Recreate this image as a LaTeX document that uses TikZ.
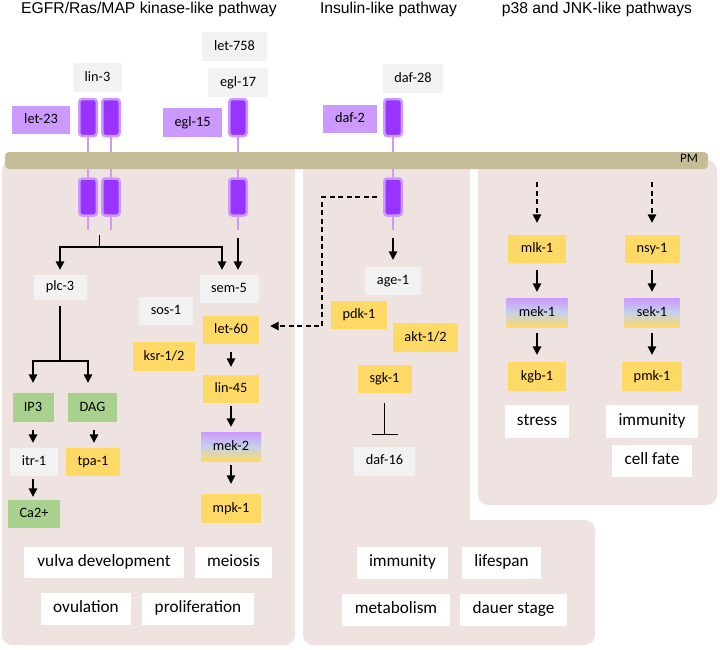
\documentclass[tikz,border=0pt]{standalone}
\usepackage{fontspec}
\setmainfont{Carlito}
\newfontfamily\titlefont{Liberation Sans}
\usetikzlibrary{arrows.meta}
\definecolor{panelc}{RGB}{238,227,225}
\definecolor{pmc}{RGB}{196,189,151}
\definecolor{grayb}{RGB}{242,242,242}
\definecolor{yellowb}{RGB}{255,217,102}
\definecolor{purpleb}{RGB}{204,153,255}
\definecolor{greenb}{RGB}{169,209,142}
\definecolor{recfill}{RGB}{153,51,255}
\definecolor{recline}{RGB}{204,153,255}
\definecolor{midblue}{RGB}{196,210,234}
\tikzset{
  title/.style={font=\titlefont\fontsize{15.7}{18}\selectfont, inner sep=0pt, text height=0.72em, text depth=0.02em},
  lbl/.style={font=\fontsize{14.3}{16}\selectfont, inner sep=0pt, minimum height=29pt, text height=0.72em, text depth=0.02em},
  gbox/.style={lbl, fill=grayb},
  ybox/.style={lbl, fill=yellowb},
  pbox/.style={lbl, fill=purpleb},
  grbox/.style={lbl, fill=greenb},
  mixbox/.style={lbl, top color=purpleb, bottom color=yellowb, middle color=midblue},
  obox/.style={font=\fontsize{17.2}{19}\selectfont, inner sep=0pt, fill=white, minimum height=32pt, text height=0.72em, text depth=0.02em},
  receptor/.style={draw=recline, fill=recfill, line width=2.5pt, rounded corners=3pt, minimum width=17.5pt, minimum height=37pt, inner sep=0pt},
  stem/.style={draw=recline, line width=2pt},
  plain/.style={draw=black, line width=1.4pt},
  arr/.style={plain, -{Triangle[width=8.5pt,length=8.5pt]}},
  dasharr/.style={arr, dash pattern=on 5pt off 3.5pt},
  inh/.style={plain, -{Bar[width=26pt,line width=1.4pt]}},
}
\begin{document}
\begin{tikzpicture}[x=1pt,y=-1pt]
\useasboundingbox (0,0) rectangle (720,649);
% panels
\fill[panelc, rounded corners=10pt] (2,160) rectangle (295,645);
\fill[panelc, rounded corners=10pt] (303,160) rectangle (470,645);
\fill[panelc, rounded corners=10pt] (303,520) rectangle (595,645);
\fill[panelc, rounded corners=10pt] (478,160) rectangle (717,505);

% titles
\node[title] (t1) at (149,10) {EGFR/Ras/MAP kinase-like pathway};
\node[title] (t2) at (388.5,10) {Insulin-like pathway};
\node[title] (t3) at (597,10) {p38 and JNK-like pathways};

% receptor positions
\coordinate (cA1) at (88,117.5);
\coordinate (cA2) at (111,117.5);
\coordinate (cB) at (238,117.5);
\coordinate (cC) at (393,117.5);
\coordinate (cA1l) at (88,197);
\coordinate (cA2l) at (111,197);
\coordinate (cBl) at (238,197);
\coordinate (cCl) at (393,197);
% stems
\foreach \a in {A1,A2,B,C}{
  \draw[stem] (c\a) -- (c\a l);
  \draw[stem] (c\a l) -- ++(0,33);
}
% membrane
\fill[pmc, rounded corners=4pt] (5,152) rectangle (708,169);
\node[font=\fontsize{13}{15}\selectfont, inner sep=0pt] (pm) at (689,158) {PM};

% receptors
\node[receptor] (rA1) at (cA1) {};
\node[receptor] (rA2) at (cA2) {};
\node[receptor] (rB) at (cB) {};
\node[receptor] (rC) at (cC) {};
\node[receptor] (rA1l) at (cA1l) {};
\node[receptor] (rA2l) at (cA2l) {};
\node[receptor] (rBl) at (cBl) {};
\node[receptor] (rCl) at (cCl) {};

% top labels
\node[gbox, minimum width=49pt] (lin3) at (97.5,77.5) {lin-3};
\node[pbox, minimum width=58pt, minimum height=28pt] (let23) at (41,120) {let-23};
\node[gbox, minimum width=65pt] (let758) at (234.5,46.5) {let-758};
\node[gbox, minimum width=60pt] (egl17) at (238,82.5) {egl-17};
\node[pbox, minimum width=59pt] (egl15) at (192.5,122.5) {egl-15};
\node[pbox, minimum width=54pt, minimum height=28pt] (daf2) at (350,119) {daf-2};
\node[gbox, minimum width=60pt] (daf28) at (413,78.5) {daf-28};

% EGFR panel
\node[gbox, minimum width=53pt, minimum height=25pt] (plc3) at (60,287) {plc-3};
\node[gbox, minimum width=59pt, minimum height=28pt] (sem5) at (229,289) {sem-5};
\node[gbox, minimum width=54pt, minimum height=28pt] (sos1) at (166,311) {sos-1};
\node[ybox, minimum width=56pt, minimum height=28pt] (let60) at (231,330) {let-60};
\node[ybox, minimum width=62pt] (ksr) at (164,356.5) {ksr-1/2};
\node[ybox, minimum width=56pt, minimum height=28pt] (lin45) at (231,389) {lin-45};
\node[mixbox, minimum width=60pt] (mek2) at (231,446.5) {mek-2};
\node[ybox, minimum width=60pt] (mpk1) at (231,508.5) {mpk-1};
\node[grbox, minimum width=41pt] (ip3) at (33,407.5) {IP3};
\node[grbox, minimum width=49pt] (dag) at (92.5,407.5) {DAG};
\node[gbox, minimum width=48pt, minimum height=28pt] (itr1) at (34,462) {itr-1};
\node[ybox, minimum width=54pt, minimum height=28pt] (tpa1) at (93,462) {tpa-1};
\node[grbox, minimum width=52pt, minimum height=28pt] (ca) at (34,514) {Ca2+};
\node[obox, minimum width=160pt, minimum height=31pt] (vulva) at (104,562.5) {vulva development};
\node[obox, minimum width=77pt, minimum height=31pt] (meiosis) at (233.5,562.5) {meiosis};
\node[obox, minimum width=90pt] (ovul) at (86,609) {ovulation};
\node[obox, minimum width=112pt] (prolif) at (198,609) {proliferation};

\coordinate (bt) at (99.5,235);
\coordinate (bj) at (99.5,247);
\draw[plain] (bt) -- (bj);
\draw[arr, shorten >=4.5pt] (bj) -| (plc3.north);
\draw[arr, shorten >=5pt] (bj) -| ([xshift=-7pt]sem5.north);
\draw[arr, shorten <=21pt, shorten >=5pt] (rBl.south) -- (rBl.south |- sem5.north);
\coordinate (pj) at (60,361);
\draw[plain, shorten <=6pt] (plc3.south) -- (pj);
\draw[arr, shorten >=10pt] (pj) -| (ip3.north);
\draw[arr, shorten >=10pt] (pj) -| ([xshift=-4.5pt]dag.north);
\draw[arr, shorten <=8pt, shorten >=5pt] (ip3.south) -- (ip3.south |- itr1.north);
\draw[arr, shorten <=8pt, shorten >=5pt] ([xshift=1.5pt]dag.south) -- ([xshift=1.5pt]dag.south |- tpa1.north);
\draw[arr, shorten <=3pt, shorten >=3pt] (itr1.south -| ip3) -- (ip3 |- ca.north);
\draw[arr, shorten <=8pt, shorten >=8pt] (let60) -- (lin45);
\draw[arr, shorten <=3pt, shorten >=5pt] (lin45) -- (mek2);
\draw[arr, shorten <=4pt, shorten >=10pt] (mek2) -- (mpk1);

% Insulin panel
\node[gbox, minimum width=56pt, minimum height=28pt] (age1) at (393,281) {age-1};
\node[ybox, minimum width=56pt, minimum height=28pt] (pdk1) at (359,315) {pdk-1};
\node[ybox, minimum width=65pt] (akt) at (425.5,337.5) {akt-1/2};
\node[ybox, minimum width=54pt, minimum height=28pt] (sgk1) at (384.5,379) {sgk-1};
\node[gbox, minimum width=61pt] (daf16) at (384.5,461) {daf-16};
\node[obox, minimum width=91pt] (imm1) at (402.5,563) {immunity};
\node[obox, minimum width=79pt] (life) at (501.5,563) {lifespan};
\node[obox, minimum width=108pt] (metab) at (396,609.5) {metabolism};
\node[obox, minimum width=107pt] (dauer) at (513.5,609.5) {dauer stage};

\draw[arr, shorten <=21pt, shorten >=7pt] (rCl.south) -- (age1.north);
\draw[inh, shorten <=10pt, shorten >=11pt] (sgk1) -- (daf16);
\coordinate (dk) at (322,326);
\draw[dasharr, shorten <=6pt, shorten >=11pt] (rCl.west) -| (dk) -- (let60.east |- dk);

% p38 panel
\node[ybox, minimum width=58pt, minimum height=28pt] (mlk1) at (537,249) {mlk-1};
\node[ybox, minimum width=55pt, minimum height=28pt] (nsy1) at (652,249) {nsy-1};
\node[mixbox, minimum width=61pt] (mek1) at (537,312.5) {mek-1};
\node[mixbox, minimum width=55pt] (sek1) at (652,312.5) {sek-1};
\node[ybox, minimum width=58pt] (kgb1) at (537,376.5) {kgb-1};
\node[ybox, minimum width=60pt] (pmk1) at (652,376.5) {pmk-1};
\node[obox, minimum width=64pt, minimum height=33pt] (stress) at (537,421.5) {stress};
\node[obox, minimum width=92pt, minimum height=33pt] (imm2) at (652,421.5) {immunity};
\node[obox, minimum width=80pt] (cfate) at (652,461) {cell fate};

\coordinate (d1) at (537,182);
\coordinate (d2) at (652,182);
\draw[dasharr, shorten >=12pt] (d1) -- (mlk1.north);
\draw[dasharr, shorten >=12pt] (d2) -- (nsy1.north);
\draw[arr, shorten <=7pt, shorten >=6pt] (mlk1) -- (mek1);
\draw[arr, shorten <=7pt, shorten >=6pt] (nsy1) -- (sek1);
\draw[arr, shorten <=6pt, shorten >=7pt] (mek1) -- (kgb1);
\draw[arr, shorten <=6pt, shorten >=7pt] (sek1) -- (pmk1);
\end{tikzpicture}
\end{document}
